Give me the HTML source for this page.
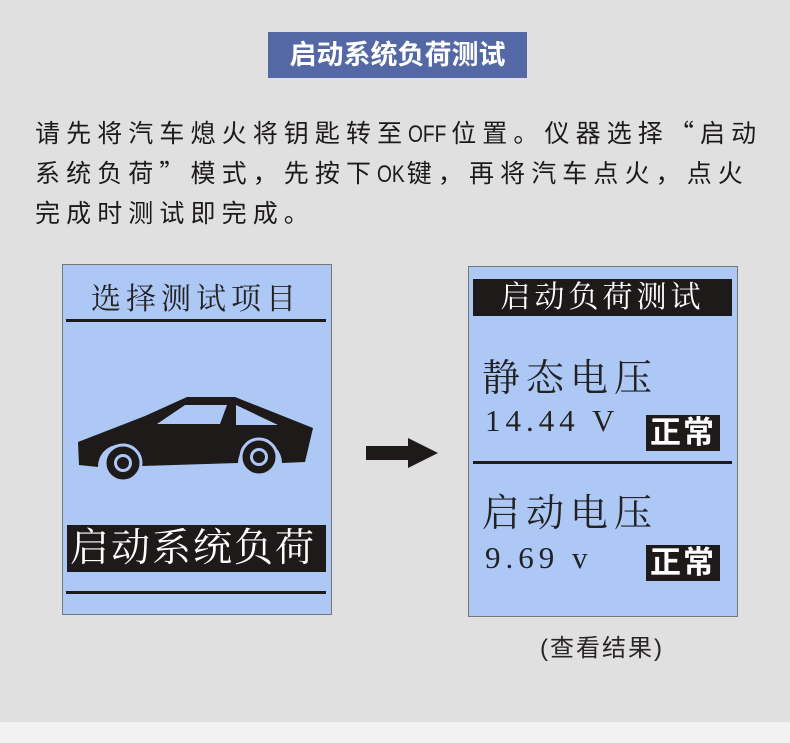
<!DOCTYPE html>
<html><head><meta charset="utf-8"><style>
body{margin:0;width:790px;height:743px;background:#e0e0e0;position:relative;overflow:hidden;font-family:"Liberation Sans","Noto Sans CJK SC",sans-serif;}
.a{position:absolute;white-space:nowrap;}
.t{position:absolute;left:268px;top:32px;width:259px;height:46px;background:#5468a5;color:#fff;font-size:27px;font-weight:bold;text-align:center;line-height:46px;}
.p{position:absolute;left:35px;font-size:25px;color:#1e1a1a;letter-spacing:6.1px;line-height:30px;white-space:nowrap;font-family:"Noto Sans CJK SC",sans-serif;}
.p b{font-weight:normal;font-family:"Liberation Sans",sans-serif;letter-spacing:0;font-size:24px;display:inline-block;transform:scaleX(0.8);transform-origin:left;margin-right:-5px}
.panel{position:absolute;background:#aec8f6;border:1px solid #777;}
.serif{font-family:"Liberation Serif","Noto Serif CJK SC",serif;}
.blk{position:absolute;background:#1e1a1a;color:#fff;white-space:nowrap;}
.ln{position:absolute;height:3px;background:#1e1a1a;}
</style></head><body>
<div class="t">启动系统负荷测试</div>
<div class="p" style="top:117px">请先将汽车熄火将钥匙转至<b>OFF</b>位置。仪器选择“启动</div>
<div class="p" style="top:157px">系统负荷”模式，先按下<b>OK</b>键，再将汽车点火，点火</div>
<div class="p" style="top:197px">完成时测试即完成。</div>

<div class="panel" style="left:62px;top:264px;width:268px;height:349px"></div>
<div class="a serif" style="left:62px;top:274px;width:268px;text-align:center;font-size:30px;letter-spacing:5px;color:#222">选择测试项目</div>
<div class="ln" style="left:66px;top:319px;width:260px"></div>
<svg class="a" style="left:60px;top:380px" width="270" height="110" viewBox="60 380 270 110">
<path d="M78 442 L145 416 L187 397 L235 397 L313 428 L305 462 L282 463 A22 22 0 0 0 238 463 L142 466 A22 22 0 0 0 98 467 L79 465 Z" fill="#1e1a1a"/>
<path d="M157 424 L185 405 L227 405 L220 424 Z" fill="#aec8f6"/>
<path d="M236 405 L278 425 L236 425 Z" fill="#aec8f6"/>
<circle cx="123" cy="463" r="18" fill="#1e1a1a" stroke="#aec8f6" stroke-width="3"/><circle cx="123" cy="463" r="9" fill="#aec8f6"/><circle cx="123" cy="463" r="6" fill="#1e1a1a"/>
<circle cx="259" cy="457" r="18" fill="#1e1a1a" stroke="#aec8f6" stroke-width="3"/><circle cx="259" cy="457" r="9" fill="#aec8f6"/><circle cx="259" cy="457" r="6" fill="#1e1a1a"/>
</svg>
<div class="blk serif" style="left:67px;top:525px;width:259px;height:47px;font-size:39px;line-height:47px;letter-spacing:2px;padding-left:3px;box-sizing:border-box;overflow:hidden">启动系统负荷</div>
<div class="ln" style="left:66px;top:591px;width:260px"></div>

<svg class="a" style="left:364px;top:436px" width="76" height="34"><path d="M2 10 H44 V2 L74 17 L44 32 V24 H2 Z" fill="#1e1a1a"/></svg>

<div class="panel" style="left:468px;top:266px;width:268px;height:349px"></div>
<div class="blk serif" style="left:473px;top:279px;width:259px;height:37px;font-size:30px;line-height:37px;text-align:center;letter-spacing:4px">启动负荷测试</div>
<div class="a serif" style="left:482px;top:347px;font-size:38px;letter-spacing:6px;color:#222">静态电压</div>
<div class="a serif" style="left:485px;top:403px;font-size:31px;letter-spacing:5px;color:#222">14.44 V</div>
<div class="blk" style="left:646px;top:415px;width:74px;height:36px;font-size:31px;line-height:36px;text-align:center;letter-spacing:2px;font-weight:bold">正常</div>
<div class="ln" style="left:473px;top:461px;width:259px"></div>
<div class="a serif" style="left:482px;top:482px;font-size:38px;letter-spacing:6px;color:#222">启动电压</div>
<div class="a serif" style="left:485px;top:540px;font-size:31px;letter-spacing:5px;color:#222">9.69 v</div>
<div class="blk" style="left:646px;top:545px;width:74px;height:36px;font-size:31px;line-height:36px;text-align:center;letter-spacing:2px;font-weight:bold">正常</div>
<div class="a" style="left:540px;top:628px;font-size:24px;color:#2a2424;letter-spacing:2px">(查看结果)</div>
<div class="a" style="left:0;top:722px;width:790px;height:21px;background:#f2f2f2"></div>
</body></html>
